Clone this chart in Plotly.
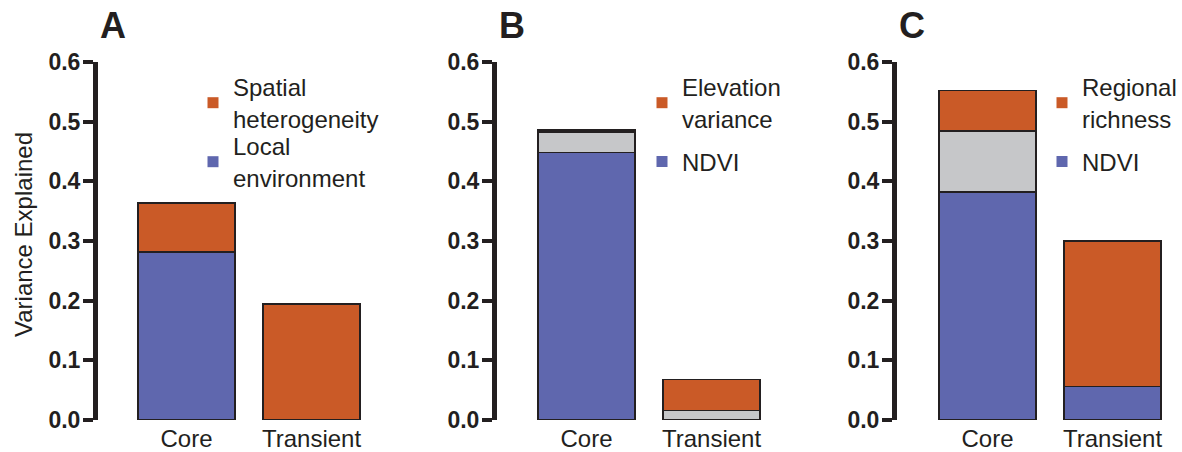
import plotly.graph_objects as go

categories = ["Core", "Transient"]

# Panel A
a_local = [0.282, None]
a_shared = [None, None]
a_spatial = [0.082, 0.194]
# Panel B
b_ndvi = [0.448, None]
b_shared = [0.035, 0.016]
b_elev = [0.003, 0.052]
# Panel C
c_ndvi = [0.382, 0.056]
c_shared = [0.102, None]
c_regional = [0.068, 0.244]

panel_letters = ["A", "B", "C"]
legend_labels = [
    ["Spatial<br>heterogeneity", "Local<br>environment"],
    ["Elevation<br>variance", "NDVI"],
    ["Regional<br>richness", "NDVI"],
]
y_title = "Variance Explained"
y_ticks = [0.0, 0.1, 0.2, 0.3, 0.4, 0.5, 0.6]

BLUE = "#5F67AE"
ORANGE = "#CA5A27"
GRAY = "#C6C7C9"
INK = "#231F20"
FONT = "Liberation Sans, Arial, sans-serif"

W, H = 1182, 452

fig = go.Figure()

panels = [
    (a_local, a_shared, a_spatial),
    (b_ndvi, b_shared, b_elev),
    (c_ndvi, c_shared, c_regional),
]

axis_px = [98, 497, 897]
core_px = [186.5, 586.5, 987.5]
unit_px = 125.0
right_px = [400, 800, 1182]
legend_x_px = [193, 642, 1042]
legend_y_px = [103, 162]

lg_counter = 0
layout = dict(
    width=W, height=H, barmode="stack",
    margin=dict(l=0, r=0, t=0, b=0, autoexpand=False),
    plot_bgcolor="white", paper_bgcolor="white",
    font=dict(family=FONT, color=INK),
)

for i, (blue, gray, orange) in enumerate(panels):
    xa = "x" if i == 0 else f"x{i+1}"
    ya = "y" if i == 0 else f"y{i+1}"
    for vals, col in [(blue, BLUE), (gray, GRAY), (orange, ORANGE)]:
        fig.add_trace(go.Bar(
            x=categories, y=vals, xaxis=xa, yaxis=ya,
            marker=dict(color=col, line=dict(color=INK, width=1.6)),
            width=0.776, showlegend=False,
        ))
    for j, (lab, col) in enumerate(zip(legend_labels[i], [ORANGE, BLUE])):
        lg_counter += 1
        leg = "legend" if lg_counter == 1 else f"legend{lg_counter}"
        fig.add_trace(go.Scatter(
            x=[None], y=[None], xaxis=xa, yaxis=ya, mode="markers",
            marker=dict(symbol="square", size=11, color=col),
            name=lab, legend=leg,
        ))
        layout[leg] = dict(
            x=legend_x_px[i] / W, y=1 - legend_y_px[j] / H,
            xanchor="left", yanchor="middle", valign="middle",
            font=dict(size=24, family=FONT, color=INK),
            bgcolor="rgba(0,0,0,0)", itemclick=False, itemdoubleclick=False,
        )

y_dom = [1 - 420 / H, 1 - 62 / H]
for i in range(3):
    xk = "xaxis" if i == 0 else f"xaxis{i+1}"
    yk = "yaxis" if i == 0 else f"yaxis{i+1}"
    x0 = -(core_px[i] - axis_px[i]) / unit_px
    x1 = (right_px[i] - core_px[i]) / unit_px
    layout[xk] = dict(
        domain=[axis_px[i] / W, right_px[i] / W],
        range=[x0, x1], showline=False, showgrid=False, zeroline=False,
        ticks="", tickfont=dict(size=24, family=FONT, color=INK),
        ticklabelstandoff=2,
        anchor="y" if i == 0 else f"y{i+1}", fixedrange=True, automargin=False,
    )
    layout[yk] = dict(
        domain=y_dom, range=[0, 0.6], tickvals=y_ticks, tickformat=".1f",
        showline=True, linewidth=5, linecolor=INK,
        ticks="outside", ticklen=10, tickwidth=4, tickcolor=INK,
        showgrid=False, zeroline=False, ticklabelstandoff=-2,
        tickfont=dict(size=23, family=FONT, color=INK, weight="bold"),
        anchor="x" if i == 0 else f"x{i+1}", fixedrange=True, automargin=False,
    )

annotations = []
for i, lt in enumerate(panel_letters):
    annotations.append(dict(
        text=f"<b>{lt}</b>", x=(axis_px[i] + 15) / W, y=1 - 26 / H,
        xref="paper", yref="paper", showarrow=False,
        font=dict(size=36, family=FONT, color=INK),
        xanchor="center", yanchor="middle",
    ))
annotations.append(dict(
    text=y_title, x=23 / W, y=1 - 235 / H, xref="paper", yref="paper",
    showarrow=False, textangle=-90,
    font=dict(size=24, family=FONT, color=INK),
    xanchor="center", yanchor="middle",
))
layout["annotations"] = annotations

fig.update_layout(**layout)
fig.write_html(
    "out.html",
    config={"displayModeBar": False},
    post_script="document.body.style.margin='0';document.body.style.overflow='hidden';",
)
